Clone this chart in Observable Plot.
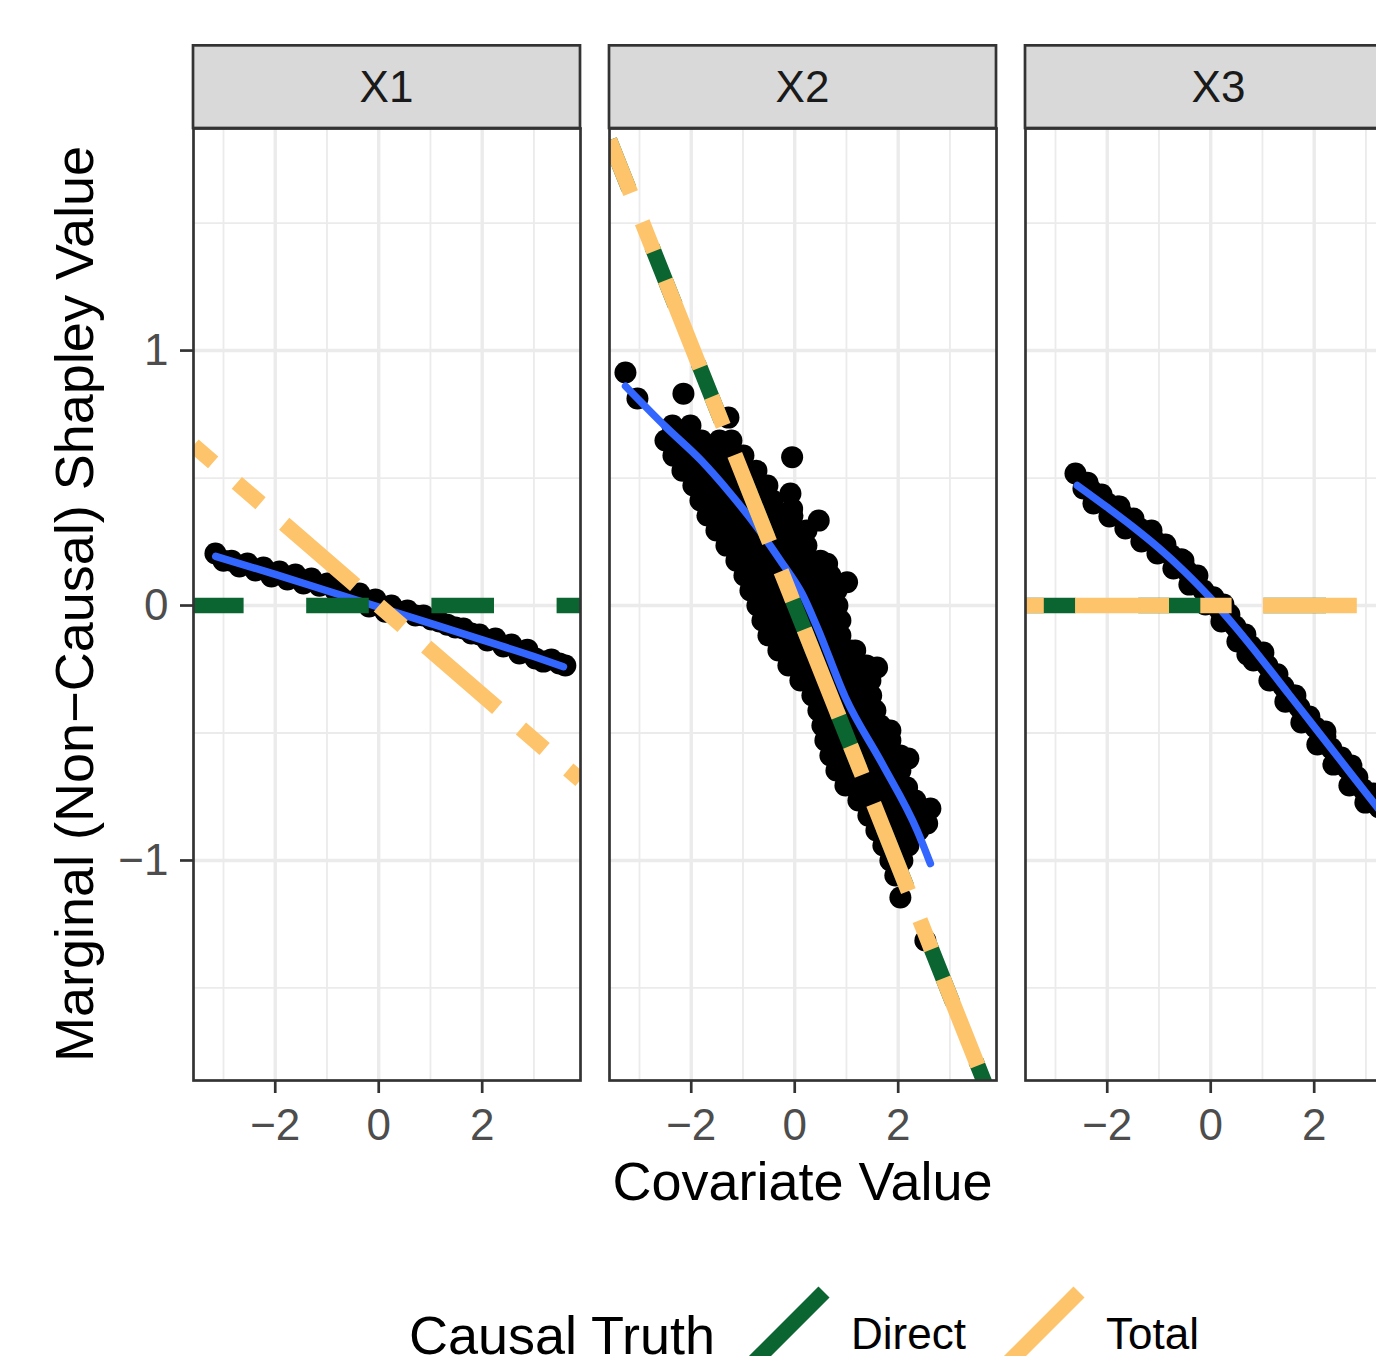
<!DOCTYPE html>
<html><head><meta charset="utf-8">
<script src="https://cdn.jsdelivr.net/npm/d3@7"></script>
<script src="https://cdn.jsdelivr.net/npm/@observablehq/plot@0.6"></script>
<style>
html,body{margin:0;padding:0;background:#fff;overflow:hidden}
#root{position:relative;width:1376px;height:1356px;overflow:hidden;background:#fff;font-family:"Liberation Sans",Arial,Helvetica,sans-serif}
#root svg{position:absolute;max-width:none !important;background:transparent !important}
</style></head><body><div id="root"></div>
<script>
// ---------------- data ----------------
const facets = ["X1", "X2", "X3"];
const xTicks = [-2, 0, 2];
const xMinorTicks = [-3, -1, 1, 3];
const yTicks = [-1, 0, 1];
const yMinorTicks = [-1.5, -0.5, 0.5, 1.5];
const xDomain = [-3.58, 3.9];
const yDomain = [-1.863, 1.871];
const truthTypes = ["Direct", "Total"];
const directSlope = [0, -0.51, 0];
const totalSlope = [-0.1755, -0.51, 0];

const x1Points = [
  [-3.156,0.204],[-3.001,0.176],[-2.846,0.176],[-2.692,0.153],[-2.537,0.165],[-2.383,0.137],
  [-2.228,0.149],[-2.074,0.114],[-1.919,0.133],[-1.764,0.102],[-1.610,0.122],[-1.455,0.086],
  [-1.301,0.106],[-1.146,0.078],[-0.991,0.086],[-0.837,0.059],[-0.682,0.063],[-0.528,0.035],
  [-0.373,0.047],[-0.218,0.012],[-0.186,-0.004],[-0.064,0.024],[0.091,-0.008],[0.129,-0.024],
  [0.245,0.000],[0.400,-0.024],[0.555,-0.020],[0.709,-0.039],[0.864,-0.039],[1.018,-0.055],
  [1.173,-0.063],[1.327,-0.075],[1.482,-0.086],[1.637,-0.090],[1.791,-0.110],[1.946,-0.114],
  [2.100,-0.137],[2.255,-0.129],[2.409,-0.161],[2.564,-0.153],[2.719,-0.188],[2.873,-0.173],
  [3.028,-0.208],[3.182,-0.220],[3.337,-0.212],[3.491,-0.227],[3.607,-0.235]
];
const x1Smooth = [[-3.15,0.193],[-2,0.122],[-1,0.058],[0,-0.006],[1,-0.07],[2,-0.135],[3,-0.2],[3.57,-0.24]];

const x2Points = [
  [-3.272,0.914],[-3.040,0.812],[-2.151,0.831],[-1.281,0.737],[-0.050,0.582],[-0.083,0.439],
  [-0.050,0.379],[0.464,0.333],[1.012,0.091],[0.626,0.164],[2.197,-0.600],[2.622,-0.796],
  [2.560,-0.855],[2.042,-1.145],[2.525,-1.314],[2.172,-0.714],[1.849,-0.490],[1.592,-0.243],
  [-2.363,0.706],[-2.015,0.706],
  [-2.498,0.647],[-2.151,0.647],[-1.803,0.647],[-1.455,0.647],[-1.223,0.647],
  [-2.344,0.588],[-1.996,0.588],[-1.648,0.588],[-1.301,0.588],[-0.991,0.588],
  [-2.170,0.529],[-1.822,0.529],[-1.474,0.529],[-1.127,0.529],[-0.740,0.529],
  [-1.958,0.471],[-1.610,0.471],[-1.262,0.471],[-0.914,0.471],[-0.528,0.471],
  [-1.822,0.412],[-1.474,0.412],[-1.127,0.412],[-0.779,0.412],[-0.431,0.412],
  [-1.687,0.353],[-1.339,0.353],[-0.991,0.353],[-0.643,0.353],[-0.296,0.353],[-0.044,0.353],
  [-1.513,0.294],[-1.165,0.294],[-0.817,0.294],[-0.470,0.294],[-0.122,0.294],[0.226,0.294],
  [-1.320,0.235],[-0.972,0.235],[-0.624,0.235],[-0.276,0.235],[0.072,0.235],[0.226,0.235],
  [-1.127,0.176],[-0.779,0.176],[-0.431,0.176],[-0.083,0.176],[0.265,0.176],[0.497,0.176],
  [-0.972,0.118],[-0.624,0.118],[-0.276,0.118],[0.072,0.118],[0.419,0.118],[0.690,0.118],
  [-0.856,0.059],[-0.508,0.059],[-0.160,0.059],[0.187,0.059],[0.535,0.059],[0.806,0.059],
  [-0.721,0.000],[-0.373,0.000],[-0.025,0.000],[0.323,0.000],[0.671,0.000],[0.825,0.000],
  [-0.624,-0.059],[-0.276,-0.059],[0.072,-0.059],[0.419,-0.059],[0.767,-0.059],[0.883,-0.059],
  [-0.508,-0.118],[-0.160,-0.118],[0.187,-0.118],[0.535,-0.118],[0.883,-0.118],
  [-0.315,-0.176],[0.033,-0.176],[0.381,-0.176],[0.729,-0.176],[1.076,-0.176],[1.169,-0.176],
  [-0.122,-0.235],[0.226,-0.235],[0.574,-0.235],[0.922,-0.235],[1.269,-0.235],[1.386,-0.235],
  [0.110,-0.294],[0.458,-0.294],[0.806,-0.294],[1.154,-0.294],[1.463,-0.294],
  [0.342,-0.353],[0.690,-0.353],[1.038,-0.353],[1.386,-0.353],[1.478,-0.353],
  [0.458,-0.412],[0.806,-0.412],[1.154,-0.412],[1.501,-0.412],[1.559,-0.412],
  [0.535,-0.471],[0.883,-0.471],[1.231,-0.471],[1.579,-0.471],[1.656,-0.471],
  [0.593,-0.529],[0.941,-0.529],[1.289,-0.529],[1.637,-0.529],[1.849,-0.529],
  [0.690,-0.588],[1.038,-0.588],[1.386,-0.588],[1.733,-0.588],[2.042,-0.588],
  [0.806,-0.647],[1.154,-0.647],[1.501,-0.647],[1.849,-0.647],[2.042,-0.647],
  [0.980,-0.706],[1.327,-0.706],[1.676,-0.706],[2.023,-0.706],[2.081,-0.706],
  [1.231,-0.765],[1.579,-0.765],[1.925,-0.765],[2.274,-0.765],[2.332,-0.765],
  [1.424,-0.824],[1.772,-0.824],[2.120,-0.824],[2.429,-0.824],
  [1.579,-0.882],[1.925,-0.882],[2.274,-0.882],[2.390,-0.882],
  [1.714,-0.941],[2.042,-0.941],[2.197,-0.941],
  [1.849,-1.000],[2.081,-1.000],
  [1.945,-1.059]
];
const x2Smooth = [[-3.27,0.86],[-2.485,0.699],[-1.809,0.569],[-1.243,0.439],[-0.727,0.307],[-0.276,0.176],
  [0.143,0.046],[0.433,-0.085],[0.980,-0.361],[1.689,-0.620],[2.365,-0.882],[2.622,-1.012]];

const x3Points = [
  // centre of the band
  [-2.614,0.518],[-2.460,0.459],[-2.382,0.482],[-2.305,0.451],[-2.151,0.424],[-1.996,0.400],
  [-1.842,0.373],[-1.764,0.388],[-1.687,0.353],[-1.532,0.329],[-1.378,0.302],[-1.223,0.278],
  [-1.145,0.294],[-1.069,0.251],[-0.914,0.231],[-0.759,0.196],[-0.605,0.169],[-0.527,0.176],
  [-0.450,0.133],[-0.296,0.098],[-0.141,0.059],[0.014,0.024],[0.168,-0.016],[0.246,0.004],
  [0.323,-0.047],[0.477,-0.082],[0.632,-0.125],[0.709,-0.192],[0.786,-0.161],[0.941,-0.200],
  [1.018,-0.184],[1.095,-0.235],[1.250,-0.278],[1.405,-0.318],[1.559,-0.361],[1.637,-0.353],
  [1.714,-0.400],[1.868,-0.443],[2.023,-0.478],[2.177,-0.522],[2.216,-0.494],[2.332,-0.561],
  [2.486,-0.604],[2.641,-0.639],[2.719,-0.627],[2.796,-0.682],[2.950,-0.722],[3.105,-0.753],
  [3.259,-0.792],[3.414,-0.827],
  // upper side
  [-2.419,0.479],[-2.110,0.435],[-1.801,0.388],[-1.493,0.341],[-1.184,0.290],[-0.875,0.239],
  [-0.566,0.181],[-0.257,0.118],[0.052,0.032],[0.361,-0.035],[0.670,-0.114],[0.980,-0.188],
  [1.289,-0.270],[1.598,-0.353],[1.907,-0.435],[2.216,-0.514],[2.525,-0.596],[2.834,-0.674],
  [3.143,-0.737],
  // lower side
  [-2.267,0.400],[-1.958,0.349],[-1.649,0.302],[-1.340,0.251],[-1.030,0.204],[-0.721,0.145],
  [-0.412,0.082],[-0.102,0.004],[0.207,-0.063],[0.516,-0.141],[0.825,-0.216],[1.134,-0.294],
  [1.443,-0.377],[1.752,-0.459],[2.061,-0.545],[2.371,-0.624],[2.680,-0.706],[2.989,-0.773]
];
const x3Smooth = [[-2.58,0.471],[-2.0,0.385],[-1.5,0.308],[-1.0,0.225],[-0.5,0.132],[0,0.028],
  [0.5,-0.09],[1.0,-0.215],[1.5,-0.345],[2.0,-0.475],[2.5,-0.605],[3.0,-0.735],[3.35,-0.825]];

// ---------------- styles / layout ----------------
const COL = {direct: "#0a6531", total: "#fec46c", smooth: "#3366ff", grid: "#ebebeb", border: "#333333", tick: "#4d4d4d"};
const FONT = '"Liberation Sans", Arial, Helvetica, sans-serif';
const LW = 15.65;                      // truth line width (dash unit)
const dashDirect = [4*LW, 4*LW].join(",");            // ggplot "dashed"
const dashTotal = [2*LW, 2*LW, 6*LW, 2*LW].join(","); // ggplot "twodash"
const offDirect = [12.5, 10.4, 12.5];
const offTotal = [130.5, 99.3, 13];
const panelLeft = [193, 609, 1025];
const panelTop = 128, panelW = 387, panelH = 952;
const mTop = 15, mRight = 15, mBottom = 85;
const TITLE_SIZE = 54, TEXT_SIZE = 44;

const pointsBy = [x1Points, x2Points, x3Points];
const smoothBy = [x1Smooth, x2Smooth, x3Smooth];
const minusFmt = d => d < 0 ? "\u2212" + Math.abs(d) : String(d);

const root = document.getElementById("root");

facets.forEach((f, i) => {
  const first = i === 0;
  const mLeft = first ? 193 : 15;
  const pts = pointsBy[i].map(([x, y]) => ({x, y}));
  const sm = smoothBy[i].map(([x, y]) => ({x, y}));
  const dLine = xDomain.map(x => ({x, y: directSlope[i] * x}));
  const tLine = xDomain.map(x => ({x, y: totalSlope[i] * x}));
  const svg = Plot.plot({
    width: mLeft + panelW + mRight,
    height: mTop + panelH + mBottom,
    marginLeft: mLeft, marginRight: mRight, marginTop: mTop, marginBottom: mBottom,
    style: {fontFamily: FONT, background: "transparent", overflow: "visible"},
    x: {domain: xDomain},
    y: first ? {domain: yDomain} : {domain: yDomain, axis: null},
    marks: [
      Plot.ruleX(xMinorTicks, {stroke: COL.grid, strokeWidth: 1.8}),
      Plot.ruleY(yMinorTicks, {stroke: COL.grid, strokeWidth: 1.8}),
      Plot.ruleX(xTicks, {stroke: COL.grid, strokeWidth: 3.4}),
      Plot.ruleY(yTicks, {stroke: COL.grid, strokeWidth: 3.4}),
      Plot.dot(pts, {x: "x", y: "y", r: 11, fill: "#000", stroke: "none", clip: true}),
      Plot.line(sm, {x: "x", y: "y", stroke: COL.smooth, strokeWidth: 7.5, curve: "monotone-x", clip: true}),
      Plot.line(dLine, {x: "x", y: "y", stroke: COL.direct, strokeWidth: LW, strokeDasharray: dashDirect, strokeDashoffset: offDirect[i], strokeLinecap: "butt", clip: true}),
      Plot.line(tLine, {x: "x", y: "y", stroke: COL.total, strokeWidth: LW, strokeDasharray: dashTotal, strokeDashoffset: offTotal[i], strokeLinecap: "butt", clip: true}),
      Plot.axisX({ticks: xTicks, tickFormat: minusFmt, label: null, tickSize: 13, tickPadding: 15, fontSize: TEXT_SIZE, stroke: COL.border, strokeWidth: 2.7, fill: COL.tick}),
      first ? Plot.axisY({ticks: yTicks, tickFormat: minusFmt, label: null, tickSize: 13, tickPadding: 12, fontSize: TEXT_SIZE, stroke: COL.border, strokeWidth: 2.7, fill: COL.tick}) : null,
      Plot.frame({stroke: COL.border, strokeWidth: 2.7})
    ]
  });
  svg.style.left = (panelLeft[i] - mLeft) + "px";
  svg.style.top = (panelTop - mTop) + "px";
  root.appendChild(svg);
});

// ---------------- strips, titles, legend ----------------
const over = d3.create("svg")
  .attr("width", 1376).attr("height", 1356)
  .style("left", "0px").style("top", "0px")
  .attr("font-family", FONT);

facets.forEach((f, i) => {
  over.append("rect")
    .attr("x", panelLeft[i]).attr("y", 45.35)
    .attr("width", panelW).attr("height", panelTop - 45.35)
    .attr("fill", "#d9d9d9").attr("stroke", COL.border).attr("stroke-width", 2.7);
  over.append("text")
    .attr("x", panelLeft[i] + panelW / 2).attr("y", 102)
    .attr("text-anchor", "middle").attr("font-size", TEXT_SIZE).attr("fill", "#1a1a1a")
    .text(f);
});

over.append("text")
  .attr("transform", `translate(93,${panelTop + panelH / 2}) rotate(-90)`)
  .attr("text-anchor", "middle").attr("font-size", TITLE_SIZE).attr("fill", "#000")
  .text("Marginal (Non\u2212Causal) Shapley Value");

over.append("text")
  .attr("x", (panelLeft[0] + panelLeft[2] + panelW) / 2).attr("y", 1200)
  .attr("text-anchor", "middle").attr("font-size", TITLE_SIZE).attr("fill", "#000")
  .text("Covariate Value");

// legend
over.append("text").attr("x", 409).attr("y", 1354)
  .attr("font-size", TITLE_SIZE).attr("fill", "#000").text("Causal Truth");
const keyLeft = [746, 1001], keySize = 78, keyTop = 1292;
const labelX = [851, 1106];
truthTypes.forEach((t, j) => {
  over.append("line")
    .attr("x1", keyLeft[j]).attr("y1", keyTop + keySize)
    .attr("x2", keyLeft[j] + keySize).attr("y2", keyTop)
    .attr("stroke", j === 0 ? COL.direct : COL.total)
    .attr("stroke-width", LW).attr("stroke-linecap", "butt");
  over.append("text").attr("x", labelX[j]).attr("y", 1349)
    .attr("font-size", TEXT_SIZE).attr("fill", "#000").text(t);
});

root.appendChild(over.node());
</script>
</body></html>
